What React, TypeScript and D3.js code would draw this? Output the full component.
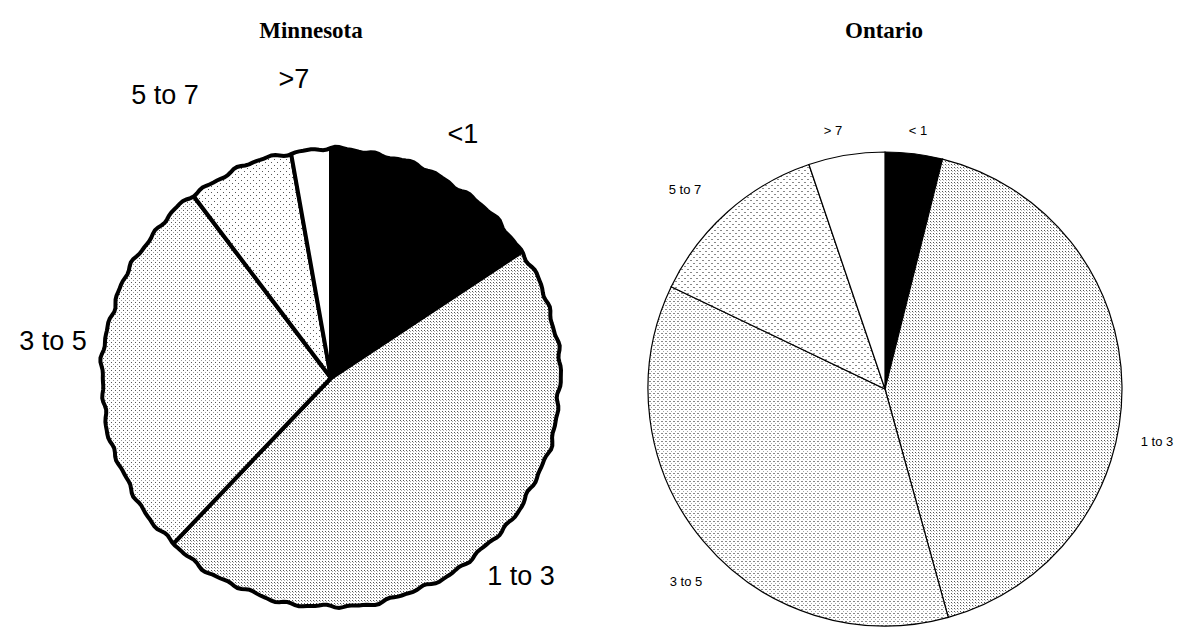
import React from "react";
import * as d3 from "d3";

const categories = ["<1", "1 to 3", "3 to 5", "5 to 7", ">7"];
const ontarioCategories = ["< 1", "1 to 3", "3 to 5", "5 to 7", "> 7"];
const minnesotaValues = [15.7, 46.4, 27.6, 7.5, 2.8];
const ontarioValues = [3.9, 41.8, 36.4, 12.7, 5.2];

const fills = ["#000", "url(#pDense)", "url(#pMed)", "url(#pSparse)", "#fff"];
const fillsR = ["#000", "url(#pDenseR)", "url(#pMedR)", "url(#pSparseR)", "#fff"];

const leftLabelPos: [number, number][] = [[463, 136], [521, 578], [53, 343], [165, 97], [294, 81]];
const rightLabelPos: [number, number][] = [[918, 132], [1157, 443], [686, 583], [685, 191], [833, 132]];

function wobblyCircle(cx: number, cy: number, r: number) {
  const pts: [number, number][] = [];
  const n = 360;
  for (let i = 0; i <= n; i++) {
    const a = (i / n) * Math.PI * 2;
    const rr = r + 1.1 * Math.sin(a * 41) + 0.9 * Math.sin(a * 17 + 1.3) + 0.6 * Math.sin(a * 71 + 0.4);
    pts.push([cx + rr * Math.sin(a), cy - rr * Math.cos(a)]);
  }
  return d3.line()(pts) + "Z";
}

export default function App() {
  const pie = d3.pie<number>().sort(null).value((d) => d);
  const lc = { x: 331, y: 378, r: 229 };
  const rc = { x: 885, y: 389, r: 237 };
  const leftArcs = pie(minnesotaValues);
  const rightArcs = pie(ontarioValues);
  const arcLBig = d3.arc<d3.PieArcDatum<number>>().innerRadius(0).outerRadius(lc.r + 10);
  const arcR = d3.arc<d3.PieArcDatum<number>>().innerRadius(0).outerRadius(rc.r);

  return (
    <svg width={1190} height={629} style={{ position: "absolute", left: 0, top: 0, background: "#fff" }}>
      <defs>
        <pattern id="pDense" width={3} height={3} patternUnits="userSpaceOnUse">
          <rect width={3} height={3} fill="#fff" />
          <rect x={0} y={0} width={1} height={1} fill="#555" />
          <rect x={1} y={1} width={1} height={1} fill="#aaa" />
        </pattern>
        <pattern id="pMed" width={4} height={4} patternUnits="userSpaceOnUse">
          <rect width={4} height={4} fill="#fff" />
          <rect x={0} y={0} width={1} height={1} fill="#555" />
          <rect x={2} y={2} width={1} height={1} fill="#999" />
        </pattern>
        <pattern id="pSparse" width={6} height={6} patternUnits="userSpaceOnUse">
          <rect width={6} height={6} fill="#fff" />
          <rect x={0} y={0} width={1} height={1} fill="#555" />
          <rect x={3} y={3} width={1} height={1} fill="#555" />
        </pattern>
        <pattern id="pDenseR" width={3} height={3} patternUnits="userSpaceOnUse">
          <rect width={3} height={3} fill="#fff" />
          <rect x={0} y={0} width={1} height={1} fill="#555" />
          <rect x={1} y={1} width={1} height={1} fill="#bbb" />
        </pattern>
        <pattern id="pMedR" width={4} height={4} patternUnits="userSpaceOnUse">
          <rect width={4} height={4} fill="#fff" />
          <rect x={0} y={0} width={2} height={1} fill="#888" />
          <rect x={2} y={2} width={1} height={1} fill="#aaa" />
        </pattern>
        <pattern id="pSparseR" width={6} height={6} patternUnits="userSpaceOnUse">
          <rect width={6} height={6} fill="#fff" />
          <rect x={0} y={0} width={2} height={1} fill="#888" />
          <rect x={3} y={3} width={2} height={1} fill="#888" />
        </pattern>
        <clipPath id="wob">
          <path d={wobblyCircle(lc.x, lc.y, lc.r)} />
        </clipPath>
      </defs>

      <text x={311} y={38} textAnchor="middle" fontFamily="'Liberation Serif', 'Times New Roman', serif" fontWeight="bold" fontSize={23}>Minnesota</text>
      <text x={884} y={38} textAnchor="middle" fontFamily="'Liberation Serif', 'Times New Roman', serif" fontWeight="bold" fontSize={23}>Ontario</text>

      <g clipPath="url(#wob)">
        <g transform={`translate(${lc.x},${lc.y})`}>
          {leftArcs.map((a, i) => (
            <path key={i} d={arcLBig(a) || ""} fill={fills[i]} stroke="#000" strokeWidth={4} strokeLinejoin="miter" />
          ))}
        </g>
      </g>
      <path d={wobblyCircle(lc.x, lc.y, lc.r)} fill="none" stroke="#000" strokeWidth={4} />

      <g transform={`translate(${rc.x},${rc.y})`}>
        {rightArcs.map((a, i) => (
          <path key={i} d={arcR(a) || ""} fill={fillsR[i]} stroke="#000" strokeWidth={1.2} />
        ))}
      </g>

      {categories.map((c, i) => (
        <text key={c} x={leftLabelPos[i][0]} y={leftLabelPos[i][1]} textAnchor="middle" dominantBaseline="middle" fontFamily="'Liberation Sans', Arial, sans-serif" fontSize={27}>{c}</text>
      ))}
      {ontarioCategories.map((c, i) => (
        <text key={c} x={rightLabelPos[i][0]} y={rightLabelPos[i][1]} textAnchor="middle" dominantBaseline="middle" fontFamily="'Liberation Sans', Arial, sans-serif" fontSize={13}>{c}</text>
      ))}
    </svg>
  );
}
